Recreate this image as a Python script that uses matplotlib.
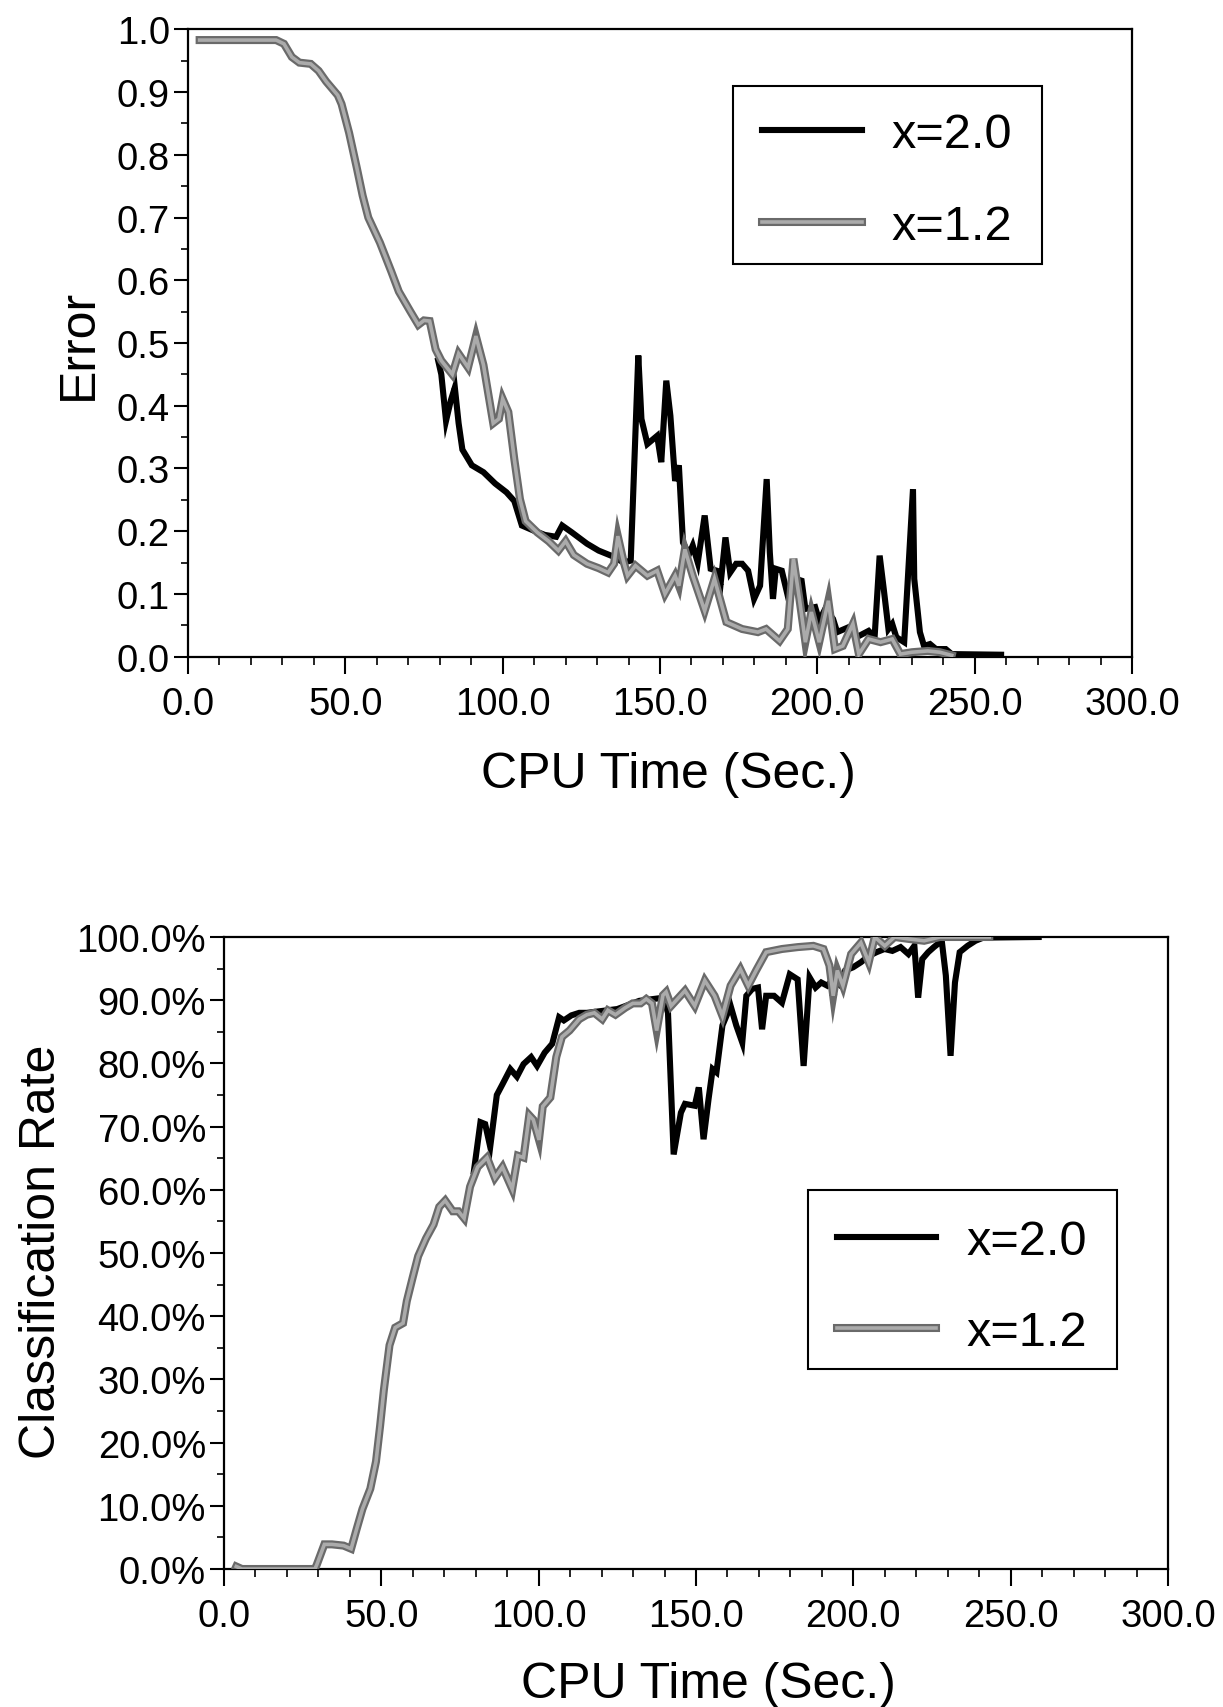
import matplotlib
matplotlib.use("Agg")
import matplotlib.pyplot as plt
import matplotlib.patheffects as pe
from matplotlib.patches import Rectangle
from matplotlib.ticker import MultipleLocator, FuncFormatter

plt.rcParams['font.family'] = ['Liberation Sans', 'DejaVu Sans']

# ---------------- data: Error vs CPU time ----------------
err_t_12 = [3.7, 28, 30.5, 33, 35.4, 39, 41.5, 43.9, 47.6, 48.8, 51.2, 53.7, 55.5, 57.3, 61, 64.6,
            67, 70.7, 73.2, 75, 76.8, 78.7, 80.5, 84, 86, 89, 91.5, 93.9, 97, 98.8, 100, 101.8,
            103.7, 105.5, 107.3, 111, 114.6, 117.7, 120, 122.6, 126.8, 130.5, 133.5, 135.4, 136.6,
            138.4, 139.7, 142.2, 146, 149.1, 151.6, 154.8, 156, 157.9, 160.4, 164.2, 167.3, 171.1,
            176.1, 181.1, 183.7, 188, 190.6, 192.4, 194.3, 196.2, 198.1, 200.6, 203.5, 205.6, 208.1,
            211.3, 213.2, 216.3, 220.1, 223.8, 226.4, 230.1, 235.1, 238.9, 242.7]
err_v_12 = [0.983, 0.983, 0.977, 0.956, 0.947, 0.945, 0.934, 0.917, 0.895, 0.881, 0.835, 0.778, 0.735,
            0.700, 0.660, 0.614, 0.582, 0.550, 0.529, 0.536, 0.535, 0.490, 0.472, 0.450, 0.483, 0.461,
            0.511, 0.465, 0.372, 0.379, 0.411, 0.390, 0.315, 0.251, 0.216, 0.198, 0.184, 0.169, 0.184,
            0.162, 0.148, 0.141, 0.134, 0.148, 0.192, 0.152, 0.129, 0.145, 0.129, 0.137, 0.100, 0.129,
            0.113, 0.171, 0.129, 0.073, 0.124, 0.055, 0.044, 0.039, 0.044, 0.025, 0.044, 0.156, 0.092,
            0.023, 0.071, 0.023, 0.089, 0.012, 0.017, 0.052, 0.004, 0.028, 0.023, 0.028, 0.004, 0.007,
            0.009, 0.007, 0.002]

err_t_20 = [79.5, 80.5, 82, 83.5, 84.8, 86, 87.2, 90.2, 93.9, 97.6, 101.2, 103.7, 106.1, 109.8, 113.4,
            117, 118.9, 122, 126.8, 130.5, 135.4, 138.4, 140.7, 143.1, 144.1, 146, 149.1, 150.4, 152,
            153.3, 154.8, 156, 157.3, 159.2, 160.4, 162, 164.2, 166.1, 168, 169.2, 170.8, 172.3, 174.2,
            176.1, 178, 179.9, 181.8, 183.9, 184.9, 185.9, 186.8, 188.7, 190.6, 193.1, 195, 196.2,
            199.3, 200.6, 202.5, 205, 206.3, 210, 212.5, 216.3, 218.2, 219.8, 221.1, 222.6, 223.8,
            225.1, 227.6, 230.4, 230.8, 232.6, 233.9, 235.8, 237.7, 240.8, 242.7, 258.4]
err_v_20 = [0.472, 0.450, 0.376, 0.408, 0.429, 0.372, 0.330, 0.305, 0.294, 0.276, 0.262, 0.248, 0.209,
            0.201, 0.194, 0.191, 0.209, 0.198, 0.180, 0.169, 0.159, 0.150, 0.153, 0.480, 0.379, 0.339,
            0.352, 0.310, 0.440, 0.384, 0.280, 0.305, 0.182, 0.163, 0.177, 0.150, 0.225, 0.140, 0.137,
            0.113, 0.190, 0.134, 0.148, 0.148, 0.137, 0.092, 0.113, 0.283, 0.166, 0.092, 0.140, 0.137,
            0.097, 0.124, 0.121, 0.076, 0.079, 0.057, 0.076, 0.060, 0.039, 0.047, 0.031, 0.041, 0.031,
            0.161, 0.108, 0.044, 0.052, 0.031, 0.023, 0.267, 0.124, 0.039, 0.017, 0.020, 0.012, 0.012,
            0.004, 0.003]

# ---------------- data: Classification rate vs CPU time ----------------
cls_t_12 = [3.9, 5.7, 28.9, 29.5, 31.9, 34.3, 38, 40.4, 42.2, 44, 46.5, 48.3, 49.6, 50.8, 52.6, 54.4,
            56.9, 58.1, 59.9, 61.7, 64.2, 66.6, 68.4, 70.3, 72.7, 74.5, 76.3, 78.2, 80.6, 83.6, 86.1,
            88.5, 91.6, 93.4, 95.2, 97, 98.3, 100.1, 101.3, 103.7, 105.6, 107.4, 109.8, 112.9, 115.3,
            117.7, 120.2, 122, 124.4, 127.5, 129.9, 132.4, 134.2, 136, 137.5, 139.5, 140.5, 142.1,
            146.5, 149.6, 152.8, 155.9, 158.4, 161, 164.1, 166.6, 169.1, 172.3, 177.3, 182.3, 187.3,
            190.5, 192.4, 193.6, 194.9, 196.7, 199.3, 202.4, 204.9, 206.8, 210, 213.1, 217.5, 222.5,
            227.5, 232.5, 243.2]
cls_v_12 = [0.4, 0.0, 0.0, 0.7, 3.9, 3.9, 3.7, 3.2, 6.4, 9.5, 12.7, 17.0, 22.6, 28.3, 35.4, 38.2, 38.9,
            42.4, 46.0, 49.5, 52.3, 54.5, 57.3, 58.3, 56.6, 56.6, 55.5, 60.5, 63.6, 65.1, 61.9, 63.6,
            60.1, 65.4, 65.1, 71.8, 71.1, 67.9, 73.2, 74.6, 81.0, 84.2, 85.2, 87.0, 87.7, 88.0, 87.0,
            88.4, 87.7, 88.8, 89.5, 89.5, 90.2, 89.5, 85.2, 90.8, 91.3, 89.1, 91.5, 89.1, 93.1, 90.7,
            87.5, 92.3, 94.9, 92.3, 94.7, 97.6, 98.1, 98.4, 98.6, 98.1, 95.5, 90.7, 94.7, 92.3, 97.3,
            99.1, 96.0, 100.0, 98.6, 100.0, 99.7, 99.4, 100.0, 100.0, 100.0]

cls_t_20 = [79.4, 81.5, 83, 84.6, 86.7, 88.5, 91, 93.1, 95.2, 97.6, 99.5, 101.9, 104.3, 106.5, 108,
            110.4, 112.9, 115.3, 125, 132, 139.7, 141.1, 142.9, 145.2, 146.5, 149.6, 150.9, 152.4,
            154, 155.3, 156.5, 158.4, 161, 162.8, 164.7, 166, 167.9, 169.7, 171, 172.3, 174.8, 177.3,
            179.8, 182.3, 184.2, 186.1, 188, 189.8, 191.7, 193.6, 195.5, 197.4, 199.9, 202.4, 204.9,
            207.4, 209.9, 212.4, 215, 217.5, 219.4, 220.6, 221.9, 223.8, 225.6, 228.1, 229.4, 230.9,
            232.3, 233.8, 236.3, 238.8, 241.3, 258.9]
cls_v_20 = [62.9, 70.7, 70.4, 66.8, 75.0, 76.7, 79.1, 77.9, 79.9, 81.0, 79.6, 81.7, 83.1, 87.3, 86.8,
            87.6, 88.0, 88.0, 88.6, 89.9, 90.4, 88.0, 65.6, 72.2, 73.6, 73.3, 76.2, 68.0, 74.4, 79.1,
            78.6, 86.0, 89.1, 86.0, 83.3, 90.7, 91.8, 92.0, 85.4, 90.7, 90.7, 89.6, 94.1, 93.3, 79.6,
            93.6, 92.0, 92.8, 92.3, 93.3, 92.5, 94.7, 95.2, 96.0, 97.0, 97.6, 98.1, 97.8, 98.4, 97.3,
            98.6, 90.4, 96.5, 97.6, 98.4, 99.4, 93.9, 81.2, 92.8, 97.6, 98.6, 99.4, 99.9, 100.0]

labels = ["x=2.0", "x=1.2"]
x_ticks = [0, 50, 100, 150, 200, 250, 300]

# ---------------- figure ----------------
W, H = 1223, 1708
fig = plt.figure(figsize=(W / 100, H / 100), dpi=100)

ax1 = fig.add_axes([188 / W, 1 - 657.6 / H, 944 / W, 627.2 / H])
ax2 = fig.add_axes([224 / W, 1 - 1570 / H, 944 / W, 632 / H])

gray_fx = [pe.Stroke(linewidth=5.8, foreground='#6a6a6a'), pe.Normal()]


def draw(ax, t20, v20, t12, v12):
    ax.plot(t20, v20, color='black', lw=4.4, solid_joinstyle='miter', label=labels[0], zorder=3)
    ax.plot(t12, v12, color='#ababab', lw=2.6, solid_joinstyle='miter', label=labels[1],
            path_effects=gray_fx, zorder=4)


draw(ax1, err_t_20, err_v_20, err_t_12, err_v_12)
draw(ax2, cls_t_20, cls_v_20, cls_t_12, cls_v_12)

tick_fs = 27.5
lab_fs = 36
leg_fs = 35

for ax in (ax1, ax2):
    ax.set_xlim(0, 300)
    ax.set_xticks(x_ticks)
    ax.xaxis.set_minor_locator(MultipleLocator(10))
    ax.xaxis.set_major_formatter(FuncFormatter(lambda v, p: f"{v:.1f}"))
    ax.tick_params(axis='x', which='major', direction='out', length=12, width=1.5,
                   labelsize=tick_fs, pad=9)
    ax.tick_params(axis='x', which='minor', direction='out', length=6, width=1.2)
    ax.tick_params(axis='y', which='major', direction='out', length=10, width=1.5,
                   labelsize=tick_fs, pad=3)
    ax.tick_params(axis='y', which='minor', direction='out', length=5, width=1.2)
    for s in ax.spines.values():
        s.set_linewidth(1.6)
    ax.set_xlabel("CPU Time (Sec.)", fontsize=lab_fs)

ax1.set_ylim(0, 1.0)
ax1.yaxis.set_major_locator(MultipleLocator(0.1))
ax1.yaxis.set_minor_locator(MultipleLocator(0.05))
ax1.yaxis.set_major_formatter(FuncFormatter(lambda v, p: f"{v:.1f}"))
ax1.set_ylabel("Error", fontsize=lab_fs)
ax1.yaxis.set_label_coords(-0.0916, 0.5)
ax1.xaxis.set_label_coords(0.509, -0.151)

ax2.set_ylim(0, 100)
ax2.yaxis.set_major_locator(MultipleLocator(10))
ax2.yaxis.set_minor_locator(MultipleLocator(5))
ax2.yaxis.set_major_formatter(FuncFormatter(lambda v, p: f"{v:.1f}%"))
ax2.set_ylabel("Classification Rate", fontsize=lab_fs)
ax2.yaxis.set_label_coords(-0.168, 0.503)
ax2.xaxis.set_label_coords(0.513, -0.145)


def legend(ax, anchor, box):
    ax.legend(loc='upper left', bbox_to_anchor=anchor, fontsize=leg_fs, frameon=False,
              handlelength=2.05, handletextpad=0.62, labelspacing=0.96,
              borderpad=0.0, borderaxespad=0.0)
    x0, y0, x1, y1 = box
    ax.add_patch(Rectangle((x0, y0), x1 - x0, y1 - y0, transform=ax.transAxes, fill=False,
                           edgecolor='black', linewidth=1.5, zorder=6))


legend(ax1, (0.608, 0.868), (0.577, 0.626, 0.905, 0.91))
legend(ax2, (0.649, 0.5545), (0.619, 0.316, 0.946, 0.60))

fig.savefig("out.png", dpi=100)
